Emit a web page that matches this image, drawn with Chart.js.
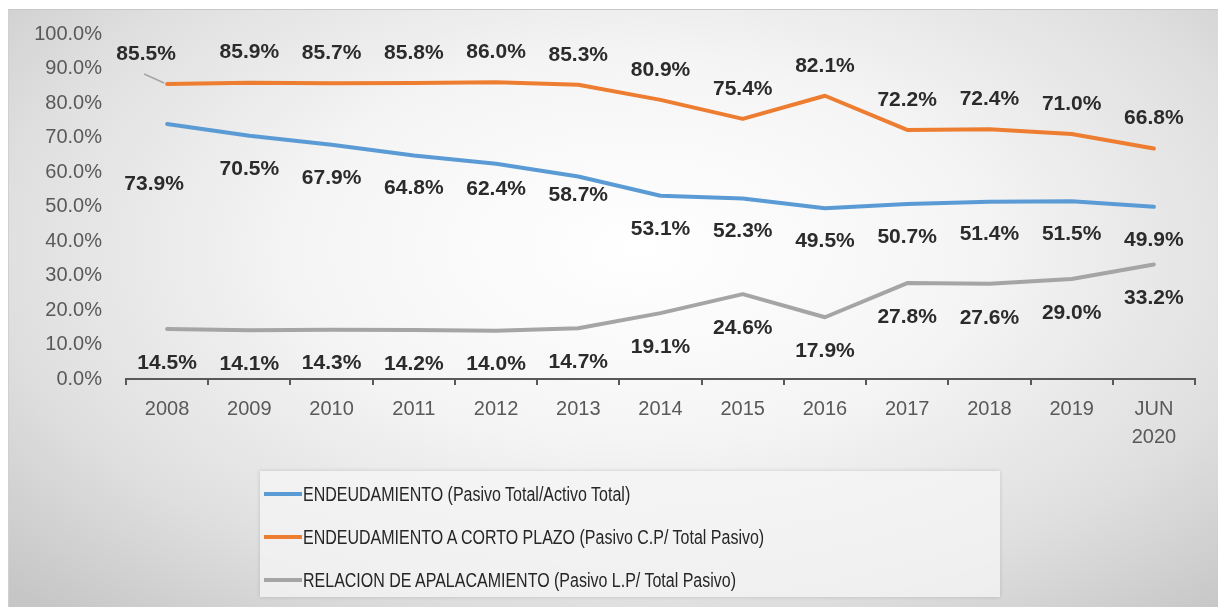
<!DOCTYPE html>
<html>
<head>
<meta charset="utf-8">
<script src="https://cdn.jsdelivr.net/npm/chart.js@4/dist/chart.umd.min.js"></script>
<style>
    html, body { margin: 0; padding: 0; background: #ffffff; }
    #frame {
        position: absolute; left: 8px; top: 9px; width: 1210px; height: 598px;
        background: radial-gradient(ellipse 72% 82% at 52% 40%, #ffffff 0%, #f5f5f5 38%, #e0e0e0 72%, #c6c6c6 100%);
        border-top: 1px solid #c8c8c8; border-left: 1px solid #d0d0d0;
    }
    #chart { position: absolute; left: 0; top: 0; }
    #legend {
        position: absolute; left: 251px; top: 461px; width: 740px; height: 126px;
        background: rgba(246, 246, 246, 0.75);
        box-shadow: 0 0 4px rgba(0,0,0,0.15);
        font-family: "Liberation Sans", Arial, sans-serif;
        font-size: 20px; color: #262626;
    }
    .item { position: absolute; left: 4px; height: 24px; line-height: 24px; white-space: nowrap; }
    .swatch { display: inline-block; width: 38px; height: 4px; vertical-align: middle; margin-right: 1px; }
    .txt { display: inline-block; transform: scaleX(0.8); transform-origin: left center; vertical-align: middle; }
</style>
</head>
<body>
<div id="frame">
    <canvas id="chart" width="1210" height="598"></canvas>
    <div id="legend"></div>
</div>
<script>
// Categories and series (percent)
const years = ['2008', '2009', '2010', '2011', '2012', '2013', '2014', '2015', '2016', '2017', '2018', '2019', ['JUN', '2020']];
const endeudamiento = [73.9, 70.5, 67.9, 64.8, 62.4, 58.7, 53.1, 52.3, 49.5, 50.7, 51.4, 51.5, 49.9];
const cortoPlazo = [85.5, 85.9, 85.7, 85.8, 86.0, 85.3, 80.9, 75.4, 82.1, 72.2, 72.4, 71.0, 66.8];
const apalancamiento = [14.5, 14.1, 14.3, 14.2, 14.0, 14.7, 19.1, 24.6, 17.9, 27.8, 27.6, 29.0, 33.2];
const seriesNames = [
    'ENDEUDAMIENTO (Pasivo Total/Activo Total)',
    'ENDEUDAMIENTO A CORTO PLAZO (Pasivo C.P/ Total Pasivo)',
    'RELACION DE APALACAMIENTO (Pasivo L.P/ Total Pasivo)'
];
const seriesColors = ['#5b9bd5', '#ed7d31', '#a5a5a5'];

// Simple value labels drawn next to each point
const valueLabels = {
    id: 'valueLabels',
    afterDatasetsDraw(chart) {
        const ctx = chart.ctx;
        ctx.save();
        ctx.font = 'bold 21px "Liberation Sans", Arial, sans-serif';
        ctx.textAlign = 'center';
        ctx.textBaseline = 'middle';
        chart.data.datasets.forEach((ds, i) => {
            const meta = chart.getDatasetMeta(i);
            meta.data.forEach((pt, j) => {
                const nudge = (ds.labelNudge && ds.labelNudge[j]) || [0, 0];
                const lx = pt.x + nudge[0], ly = pt.y + ds.labelOffset + nudge[1];
                if (ds.leader === j) {
                    // leader line for a moved label
                    ctx.strokeStyle = '#a5a5a5';
                    ctx.lineWidth = 1.5;
                    ctx.beginPath();
                    ctx.moveTo(lx - 2, ly + 20);
                    ctx.lineTo(pt.x - 3, pt.y - 1);
                    ctx.stroke();
                }
                ctx.fillStyle = '#2b2b2b';
                ctx.fillText(ds.data[j].toFixed(1) + '%', lx, ly);
            });
        });
        ctx.restore();
    }
};

const chart = new Chart(document.getElementById('chart'), {
    type: 'line',
    data: {
        labels: years,
        datasets: [
            { label: seriesNames[0], data: endeudamiento, borderColor: seriesColors[0], labelOffset: 33,
              labelNudge: { 0: [-13, 27], 4: [0, -8], 5: [0, -14] } },
            { label: seriesNames[1], data: cortoPlazo, borderColor: seriesColors[1], labelOffset: -30,
              labelNudge: { 0: [-21, 0] }, leader: 0 },
            { label: seriesNames[2], data: apalancamiento, borderColor: seriesColors[2], labelOffset: 34 }
        ]
    },
    options: {
        responsive: false,
        animation: false,
        layout: { padding: { top: 24, right: 24, left: 0, bottom: 0 } },
        elements: {
            line: { borderWidth: 4, tension: 0, borderCapStyle: 'round', borderJoinStyle: 'round' },
            point: { radius: 0, hoverRadius: 0 }
        },
        plugins: { legend: { display: false }, tooltip: { enabled: false } },
        scales: {
            x: {
                offset: true,
                grid: { offset: true, drawOnChartArea: false, drawTicks: true, tickLength: 6, color: '#595959', lineWidth: 2 },
                border: { color: '#595959', width: 2 },
                ticks: {
                    color: '#595959', padding: 10, maxRotation: 0, autoSkip: false,
                    font: { family: '"Liberation Sans", Arial, sans-serif', size: 20, lineHeight: 1.4 }
                },
                afterFit(scale) { scale.height = 229; }
            },
            y: {
                min: 0, max: 100,
                ticks: {
                    stepSize: 10, color: '#595959', padding: 24,
                    font: { family: '"Liberation Sans", Arial, sans-serif', size: 20 },
                    callback: v => v.toFixed(1) + '%'
                },
                grid: { display: false, drawTicks: false },
                border: { display: false },
                afterFit(scale) {
                    scale.width = 117;
                    scale.paddingTop = 0;
                    scale.paddingBottom = 0;
                }
            }
        }
    },
    plugins: [valueLabels]
});

// Legend stacked one entry per row
const legendEl = document.getElementById('legend');
seriesNames.forEach((name, i) => {
    const row = document.createElement('div');
    row.className = 'item';
    row.style.top = (9 + i * 43) + 'px';
    row.innerHTML = `<span class="swatch" style="background:${seriesColors[i]}"></span><span class="txt">${name}</span>`;
    legendEl.appendChild(row);
});
</script>
</body>
</html>
